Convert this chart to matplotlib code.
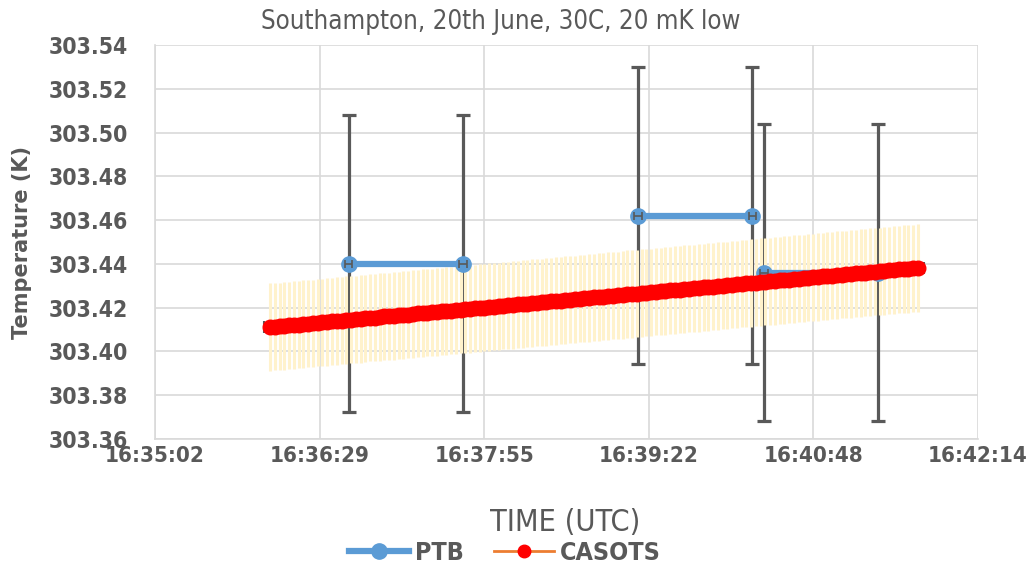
import matplotlib
matplotlib.use("Agg")
import matplotlib.pyplot as plt
from matplotlib.ticker import FixedLocator, FuncFormatter
from matplotlib.lines import Line2D

# ---------------- data ----------------
title = "Southampton, 20th June, 30C, 20 mK low"
x_label = "TIME (UTC)"
y_label = "Temperature (K)"

# PTB: three separate one-minute segments
ptb_times = ["16:36:44", "16:37:44", "16:39:16", "16:40:16", "16:40:22", "16:41:22"]
ptb_values = [303.440, 303.440, 303.462, 303.462, 303.436, 303.436]
ptb_segment = [0, 0, 1, 1, 2, 2]
ptb_unc_K = 0.068
ptb_time_unc_s = 2.0

# CASOTS: regularly sampled readings
casots_start = "16:36:02.8"
casots_step_s = 2.5
casots_values = [
    303.4110, 303.4113, 303.4114, 303.4116, 303.4119, 303.4120, 303.4121, 303.4125, 303.4126, 303.4128,
    303.4131, 303.4132, 303.4134, 303.4137, 303.4138, 303.4140, 303.4143, 303.4144, 303.4146, 303.4148,
    303.4150, 303.4153, 303.4154, 303.4156, 303.4159, 303.4160, 303.4162, 303.4164, 303.4166, 303.4168,
    303.4170, 303.4173, 303.4174, 303.4176, 303.4178, 303.4180, 303.4183, 303.4184, 303.4186, 303.4188,
    303.4190, 303.4193, 303.4194, 303.4196, 303.4198, 303.4200, 303.4203, 303.4204, 303.4206, 303.4208,
    303.4210, 303.4212, 303.4214, 303.4217, 303.4218, 303.4220, 303.4222, 303.4224, 303.4226, 303.4228,
    303.4230, 303.4232, 303.4235, 303.4236, 303.4238, 303.4240, 303.4242, 303.4244, 303.4246, 303.4248,
    303.4250, 303.4252, 303.4254, 303.4256, 303.4258, 303.4261, 303.4262, 303.4264, 303.4266, 303.4268,
    303.4270, 303.4272, 303.4274, 303.4276, 303.4278, 303.4280, 303.4282, 303.4285, 303.4286, 303.4288,
    303.4290, 303.4292, 303.4294, 303.4296, 303.4298, 303.4300, 303.4302, 303.4304, 303.4306, 303.4309,
    303.4310, 303.4312, 303.4314, 303.4316, 303.4318, 303.4320, 303.4322, 303.4324, 303.4326, 303.4328,
    303.4330, 303.4332, 303.4334, 303.4336, 303.4338, 303.4340, 303.4342, 303.4344, 303.4346, 303.4348,
    303.4350, 303.4352, 303.4354, 303.4356, 303.4358, 303.4360, 303.4362, 303.4364, 303.4366, 303.4368,
    303.4370, 303.4372, 303.4374, 303.4376, 303.4377, 303.4379, 303.4380,
]
casots_unc_K = 0.020
casots_time_unc_s = 3.0

x_tick_days = [0.691, 0.692, 0.693, 0.694, 0.695, 0.696]
y_ticks = [303.36, 303.38, 303.40, 303.42, 303.44, 303.46, 303.48, 303.50, 303.52, 303.54]


# ---------------- helpers ----------------
def to_day(s):
    h, m, sec = s.split(":")
    return (int(h) * 3600 + int(m) * 60 + float(sec)) / 86400.0


def day_fmt(v, pos):
    tot = int(round(v * 86400))
    return f"{tot // 3600}:{(tot % 3600) // 60:02d}:{tot % 60:02d}"


GRAY = "#595959"
GRID = "#D9D9D9"
BLUE = "#5B9BD5"
ORANGE = "#ED7D31"
BAND = "#FFF2CC"

ptb_x = [to_day(t) for t in ptb_times]
c0 = to_day(casots_start)
casots_x = [c0 + i * casots_step_s / 86400.0 for i in range(len(casots_values))]

fig = plt.figure(figsize=(10.28, 5.70), dpi=100)
ax = fig.add_axes([0.1508, 0.2305, 0.8006, 0.69])

# PTB vertical error bars (behind band)
ax.errorbar(ptb_x, ptb_values, yerr=ptb_unc_K, fmt="none", ecolor=GRAY,
            elinewidth=2.3, capsize=5, capthick=2.3, zorder=2)

# CASOTS uncertainty band (vertical error bars)
ax.errorbar(casots_x, casots_values, yerr=casots_unc_K, fmt="none", ecolor=BAND,
            elinewidth=2.2, capsize=0, zorder=3)

# PTB lines per segment
for seg in sorted(set(ptb_segment)):
    xs = [x for x, s in zip(ptb_x, ptb_segment) if s == seg]
    ys = [y for y, s in zip(ptb_values, ptb_segment) if s == seg]
    ax.plot(xs, ys, color=BLUE, lw=4.5, marker="o", ms=11, zorder=4,
            solid_capstyle="round")
ax.errorbar(ptb_x, ptb_values, xerr=ptb_time_unc_s / 86400.0, fmt="none",
            ecolor=GRAY, elinewidth=1.2, capsize=3, capthick=1.2, zorder=4.5)

# CASOTS
ax.errorbar(casots_x, casots_values, xerr=casots_time_unc_s / 86400.0, fmt="none",
            ecolor=GRAY, elinewidth=1.5, capsize=4, capthick=1.5, zorder=5)
ax.plot(casots_x, casots_values, color=ORANGE, lw=2, zorder=5.5)
ax.plot(casots_x, casots_values, ls="none", marker="o", ms=10.5, color="red",
        mec="red", zorder=6)

ax.set_xlim(x_tick_days[0], x_tick_days[-1])
ax.set_ylim(y_ticks[0], y_ticks[-1])
ax.xaxis.set_major_locator(FixedLocator(x_tick_days))
ax.xaxis.set_major_formatter(FuncFormatter(day_fmt))
ax.yaxis.set_major_locator(FixedLocator(y_ticks))
ax.yaxis.set_major_formatter(FuncFormatter(lambda v, p: f"{v:.2f}"))

ax.grid(True, color=GRID, lw=1.2, zorder=0)
ax.set_axisbelow(True)
for side in ["top", "right"]:
    ax.spines[side].set_visible(False)
for side in ["left", "bottom"]:
    ax.spines[side].set_color(GRID)
    ax.spines[side].set_linewidth(1.2)
ax.tick_params(length=0, colors=GRAY)
ax.tick_params(axis="y", pad=19.5)
ax.tick_params(axis="x", pad=5)
for lab in ax.get_yticklabels():
    lab.set_fontsize(16.5)
    lab.set_fontweight("bold")
    lab.set_fontstretch("condensed")
    lab.set_color(GRAY)
for lab in ax.get_xticklabels():
    lab.set_fontsize(16)
    lab.set_fontweight("bold")
    lab.set_fontstretch("condensed")
    lab.set_color(GRAY)

fig.text(0.0214, 0.574, y_label, rotation=90, ha="center", va="center",
         fontsize=15, fontweight="bold", color=GRAY)
fig.text(0.55, 0.084, x_label, ha="center", va="center", fontsize=22,
         fontstretch="condensed", color=GRAY)
fig.text(0.487, 0.961, title, ha="center", va="center", fontsize=18.5,
         fontstretch="condensed", color=GRAY)

handles = [
    Line2D([], [], color=BLUE, lw=4.5, marker="o", ms=11),
    Line2D([], [], color=ORANGE, lw=2, marker="o", ms=9, mfc="red", mec="red"),
]
leg = fig.legend(handles, ["PTB", "CASOTS"], loc="center", bbox_to_anchor=(0.491, 0.03),
                 ncol=2, frameon=False, handlelength=2.4, handletextpad=0.25,
                 columnspacing=1.2, prop={"size": 18, "weight": "bold", "stretch": "condensed"})
for t in leg.get_texts():
    t.set_color(GRAY)

fig.savefig("out.png", dpi=100)
